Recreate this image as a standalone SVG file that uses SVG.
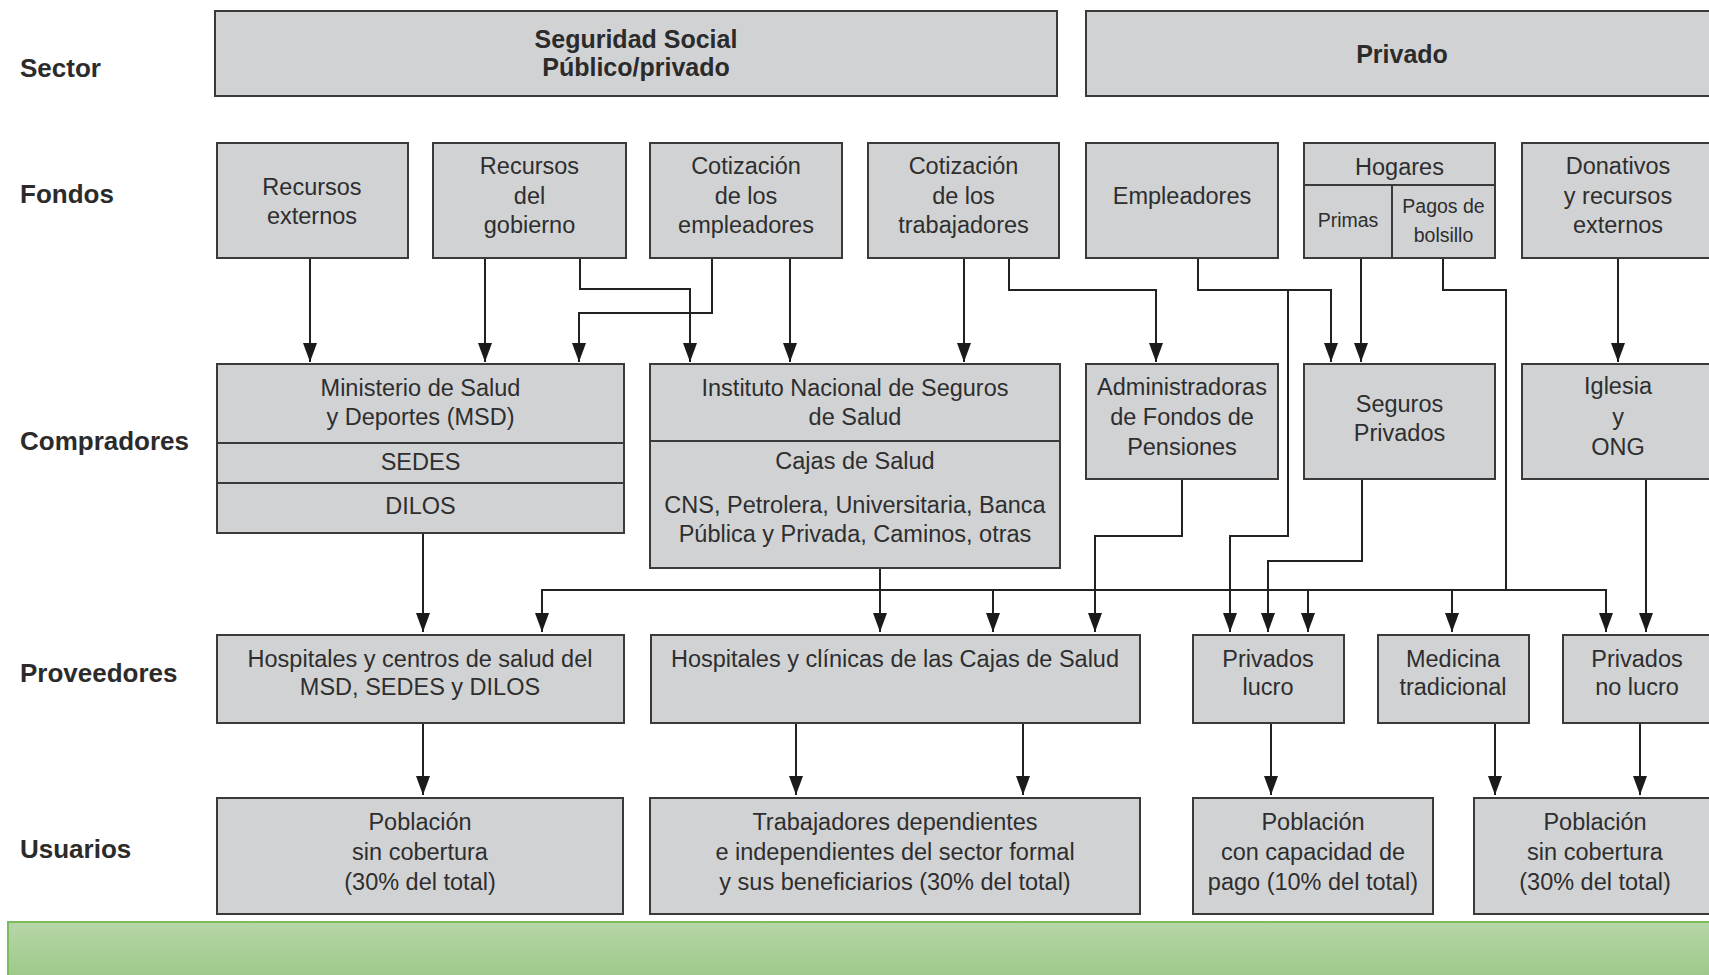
<svg xmlns="http://www.w3.org/2000/svg" width="1709" height="975" viewBox="0 0 1709 975">
<style>
.box{fill:#d1d2d4;stroke:#3a3a3a;stroke-width:2}
.div{fill:none;stroke:#3a3a3a;stroke-width:2}
.t{font-family:"Liberation Sans",Arial,sans-serif;font-size:23.5px;fill:#2e2e2e;text-anchor:middle}
.sm{font-size:19.5px}
.hd{font-family:"Liberation Sans",Arial,sans-serif;font-size:25px;font-weight:bold;fill:#2b2b2b;text-anchor:middle}
.lbl{font-family:"Liberation Sans",Arial,sans-serif;font-size:26px;font-weight:bold;fill:#2b2b2b;text-anchor:start}
.c{fill:none;stroke:#222;stroke-width:2}
</style>
<defs>
<marker id="ah" markerUnits="userSpaceOnUse" markerWidth="19" markerHeight="14" viewBox="0 0 19 14" refX="19" refY="7" orient="auto">
<path d="M0,0 L19,7 L0,14 z" fill="#1a1a1a"/>
</marker>
<linearGradient id="gr" x1="0" y1="0" x2="0" y2="1">
<stop offset="0" stop-color="#b6d6a8"/>
<stop offset="1" stop-color="#9bc886"/>
</linearGradient>
</defs>
<rect x="0" y="0" width="1709" height="975" fill="#ffffff"/>

<g id="labels">
<text class="lbl" x="20" y="77">Sector</text>
<text class="lbl" x="20" y="203">Fondos</text>
<text class="lbl" x="20" y="450">Compradores</text>
<text class="lbl" x="20" y="682">Proveedores</text>
<text class="lbl" x="20" y="858">Usuarios</text>
</g>

<g id="connectors">
<path class="c" marker-end="url(#ah)" d="M310,258 V362"/>
<path class="c" marker-end="url(#ah)" d="M485,258 V362"/>
<path class="c" marker-end="url(#ah)" d="M580,258 V289 H690 V362"/>
<path class="c" marker-end="url(#ah)" d="M712,258 V313 H579 V362"/>
<path class="c" marker-end="url(#ah)" d="M790,258 V362"/>
<path class="c" marker-end="url(#ah)" d="M964,258 V362"/>
<path class="c" marker-end="url(#ah)" d="M1009,258 V290 H1156 V362"/>
<path class="c" marker-end="url(#ah)" d="M1198,258 V290 H1331 V362"/>
<path class="c" marker-end="url(#ah)" d="M1288,290 V536 H1230 V632"/>
<path class="c" marker-end="url(#ah)" d="M1361,258 V362"/>
<path class="c" d="M1443,258 V290 H1506 V590"/>
<path class="c" marker-end="url(#ah)" d="M1618,258 V362"/>
<path class="c" d="M542,590 H1606"/>
<path class="c" marker-end="url(#ah)" d="M542,589 V632"/>
<path class="c" marker-end="url(#ah)" d="M993,590 V632"/>
<path class="c" marker-end="url(#ah)" d="M1308,590 V632"/>
<path class="c" marker-end="url(#ah)" d="M1452,590 V632"/>
<path class="c" marker-end="url(#ah)" d="M1606,589 V632"/>
<path class="c" marker-end="url(#ah)" d="M1646,479 V632"/>
<path class="c" marker-end="url(#ah)" d="M423,533 V632"/>
<path class="c" marker-end="url(#ah)" d="M880,568 V632"/>
<path class="c" marker-end="url(#ah)" d="M1182,479 V536 H1095 V632"/>
<path class="c" marker-end="url(#ah)" d="M1362,479 V561 H1268 V632"/>
<path class="c" marker-end="url(#ah)" d="M423,723 V795"/>
<path class="c" marker-end="url(#ah)" d="M796,723 V795"/>
<path class="c" marker-end="url(#ah)" d="M1023,723 V795"/>
<path class="c" marker-end="url(#ah)" d="M1271,723 V795"/>
<path class="c" marker-end="url(#ah)" d="M1495,723 V795"/>
<path class="c" marker-end="url(#ah)" d="M1640,723 V795"/>
</g>

<g id="sector-ss">
<rect class="box" x="215" y="11" width="842" height="85"/>
<text class="hd" x="636" y="48">Seguridad Social</text>
<text class="hd" x="636" y="76">Público/privado</text>
</g>
<g id="sector-privado">
<rect class="box" x="1086" y="11" width="632" height="85"/>
<text class="hd" x="1402" y="63">Privado</text>
</g>

<g id="f-recursos-externos">
<rect class="box" x="217" y="143" width="191" height="115"/>
<text class="t" x="312" y="195">Recursos</text>
<text class="t" x="312" y="224">externos</text>
</g>
<g id="f-recursos-gobierno">
<rect class="box" x="433" y="143" width="193" height="115"/>
<text class="t" x="529.5" y="174">Recursos</text>
<text class="t" x="529.5" y="204">del</text>
<text class="t" x="529.5" y="233">gobierno</text>
</g>
<g id="f-cot-empleadores">
<rect class="box" x="650" y="143" width="192" height="115"/>
<text class="t" x="746" y="174">Cotización</text>
<text class="t" x="746" y="204">de los</text>
<text class="t" x="746" y="233">empleadores</text>
</g>
<g id="f-cot-trabajadores">
<rect class="box" x="868" y="143" width="191" height="115"/>
<text class="t" x="963.5" y="174">Cotización</text>
<text class="t" x="963.5" y="204">de los</text>
<text class="t" x="963.5" y="233">trabajadores</text>
</g>
<g id="f-empleadores">
<rect class="box" x="1086" y="143" width="192" height="115"/>
<text class="t" x="1182" y="204">Empleadores</text>
</g>
<g id="f-hogares">
<rect class="box" x="1304" y="143" width="191" height="115"/>
<path class="div" d="M1304,185 H1495 M1392,185 V258"/>
<text class="t" x="1399.5" y="175">Hogares</text>
<text class="t sm" x="1348" y="227">Primas</text>
<text class="t sm" x="1443.5" y="213">Pagos de</text>
<text class="t sm" x="1443.5" y="242">bolsillo</text>
</g>
<g id="f-donativos">
<rect class="box" x="1522" y="143" width="196" height="115"/>
<text class="t" x="1618" y="174">Donativos</text>
<text class="t" x="1618" y="204">y recursos</text>
<text class="t" x="1618" y="233">externos</text>
</g>

<g id="c-msd">
<rect class="box" x="217" y="364" width="407" height="169"/>
<path class="div" d="M217,443 H624 M217,483 H624"/>
<text class="t" x="420.5" y="396">Ministerio de Salud</text>
<text class="t" x="420.5" y="425">y Deportes (MSD)</text>
<text class="t" x="420.5" y="470">SEDES</text>
<text class="t" x="420.5" y="514">DILOS</text>
</g>
<g id="c-ins">
<rect class="box" x="650" y="364" width="410" height="204"/>
<path class="div" d="M650,441 H1060"/>
<text class="t" x="855" y="396">Instituto Nacional de Seguros</text>
<text class="t" x="855" y="425">de Salud</text>
<text class="t" x="855" y="469">Cajas de Salud</text>
<text class="t" x="855" y="513">CNS, Petrolera, Universitaria, Banca</text>
<text class="t" x="855" y="542">Pública y Privada, Caminos, otras</text>
</g>
<g id="c-afp">
<rect class="box" x="1086" y="364" width="192" height="115"/>
<text class="t" x="1182" y="395">Administradoras</text>
<text class="t" x="1182" y="425">de Fondos de</text>
<text class="t" x="1182" y="455">Pensiones</text>
</g>
<g id="c-seguros">
<rect class="box" x="1304" y="364" width="191" height="115"/>
<text class="t" x="1399.5" y="412">Seguros</text>
<text class="t" x="1399.5" y="441">Privados</text>
</g>
<g id="c-iglesia">
<rect class="box" x="1522" y="364" width="196" height="115"/>
<text class="t" x="1618" y="394">Iglesia</text>
<text class="t" x="1618" y="425">y</text>
<text class="t" x="1618" y="455">ONG</text>
</g>

<g id="p-hospitales-msd">
<rect class="box" x="217" y="635" width="407" height="88"/>
<text class="t" x="420" y="667">Hospitales y centros de salud del</text>
<text class="t" x="420" y="695">MSD, SEDES y DILOS</text>
</g>
<g id="p-hospitales-cajas">
<rect class="box" x="651" y="635" width="489" height="88"/>
<text class="t" x="895" y="667">Hospitales y clínicas de las Cajas de Salud</text>
</g>
<g id="p-privados-lucro">
<rect class="box" x="1193" y="635" width="151" height="88"/>
<text class="t" x="1268" y="667">Privados</text>
<text class="t" x="1268" y="695">lucro</text>
</g>
<g id="p-medicina">
<rect class="box" x="1378" y="635" width="151" height="88"/>
<text class="t" x="1453" y="667">Medicina</text>
<text class="t" x="1453" y="695">tradicional</text>
</g>
<g id="p-privados-no-lucro">
<rect class="box" x="1563" y="635" width="155" height="88"/>
<text class="t" x="1637" y="667">Privados</text>
<text class="t" x="1637" y="695">no lucro</text>
</g>

<g id="u-sin-cobertura-1">
<rect class="box" x="217" y="798" width="406" height="116"/>
<text class="t" x="420" y="830">Población</text>
<text class="t" x="420" y="860">sin cobertura</text>
<text class="t" x="420" y="890">(30% del total)</text>
</g>
<g id="u-trabajadores">
<rect class="box" x="650" y="798" width="490" height="116"/>
<text class="t" x="895" y="830">Trabajadores dependientes</text>
<text class="t" x="895" y="860">e independientes del sector formal</text>
<text class="t" x="895" y="890">y sus beneficiarios (30% del total)</text>
</g>
<g id="u-capacidad-pago">
<rect class="box" x="1193" y="798" width="240" height="116"/>
<text class="t" x="1313" y="830">Población</text>
<text class="t" x="1313" y="860">con capacidad de</text>
<text class="t" x="1313" y="890">pago (10% del total)</text>
</g>
<g id="u-sin-cobertura-2">
<rect class="box" x="1474" y="798" width="244" height="116"/>
<text class="t" x="1595" y="830">Población</text>
<text class="t" x="1595" y="860">sin cobertura</text>
<text class="t" x="1595" y="890">(30% del total)</text>
</g>

<g id="banner">
<rect x="8" y="922" width="1710" height="60" fill="url(#gr)" stroke="#7cbb5e" stroke-width="2"/>
</g>
</svg>
